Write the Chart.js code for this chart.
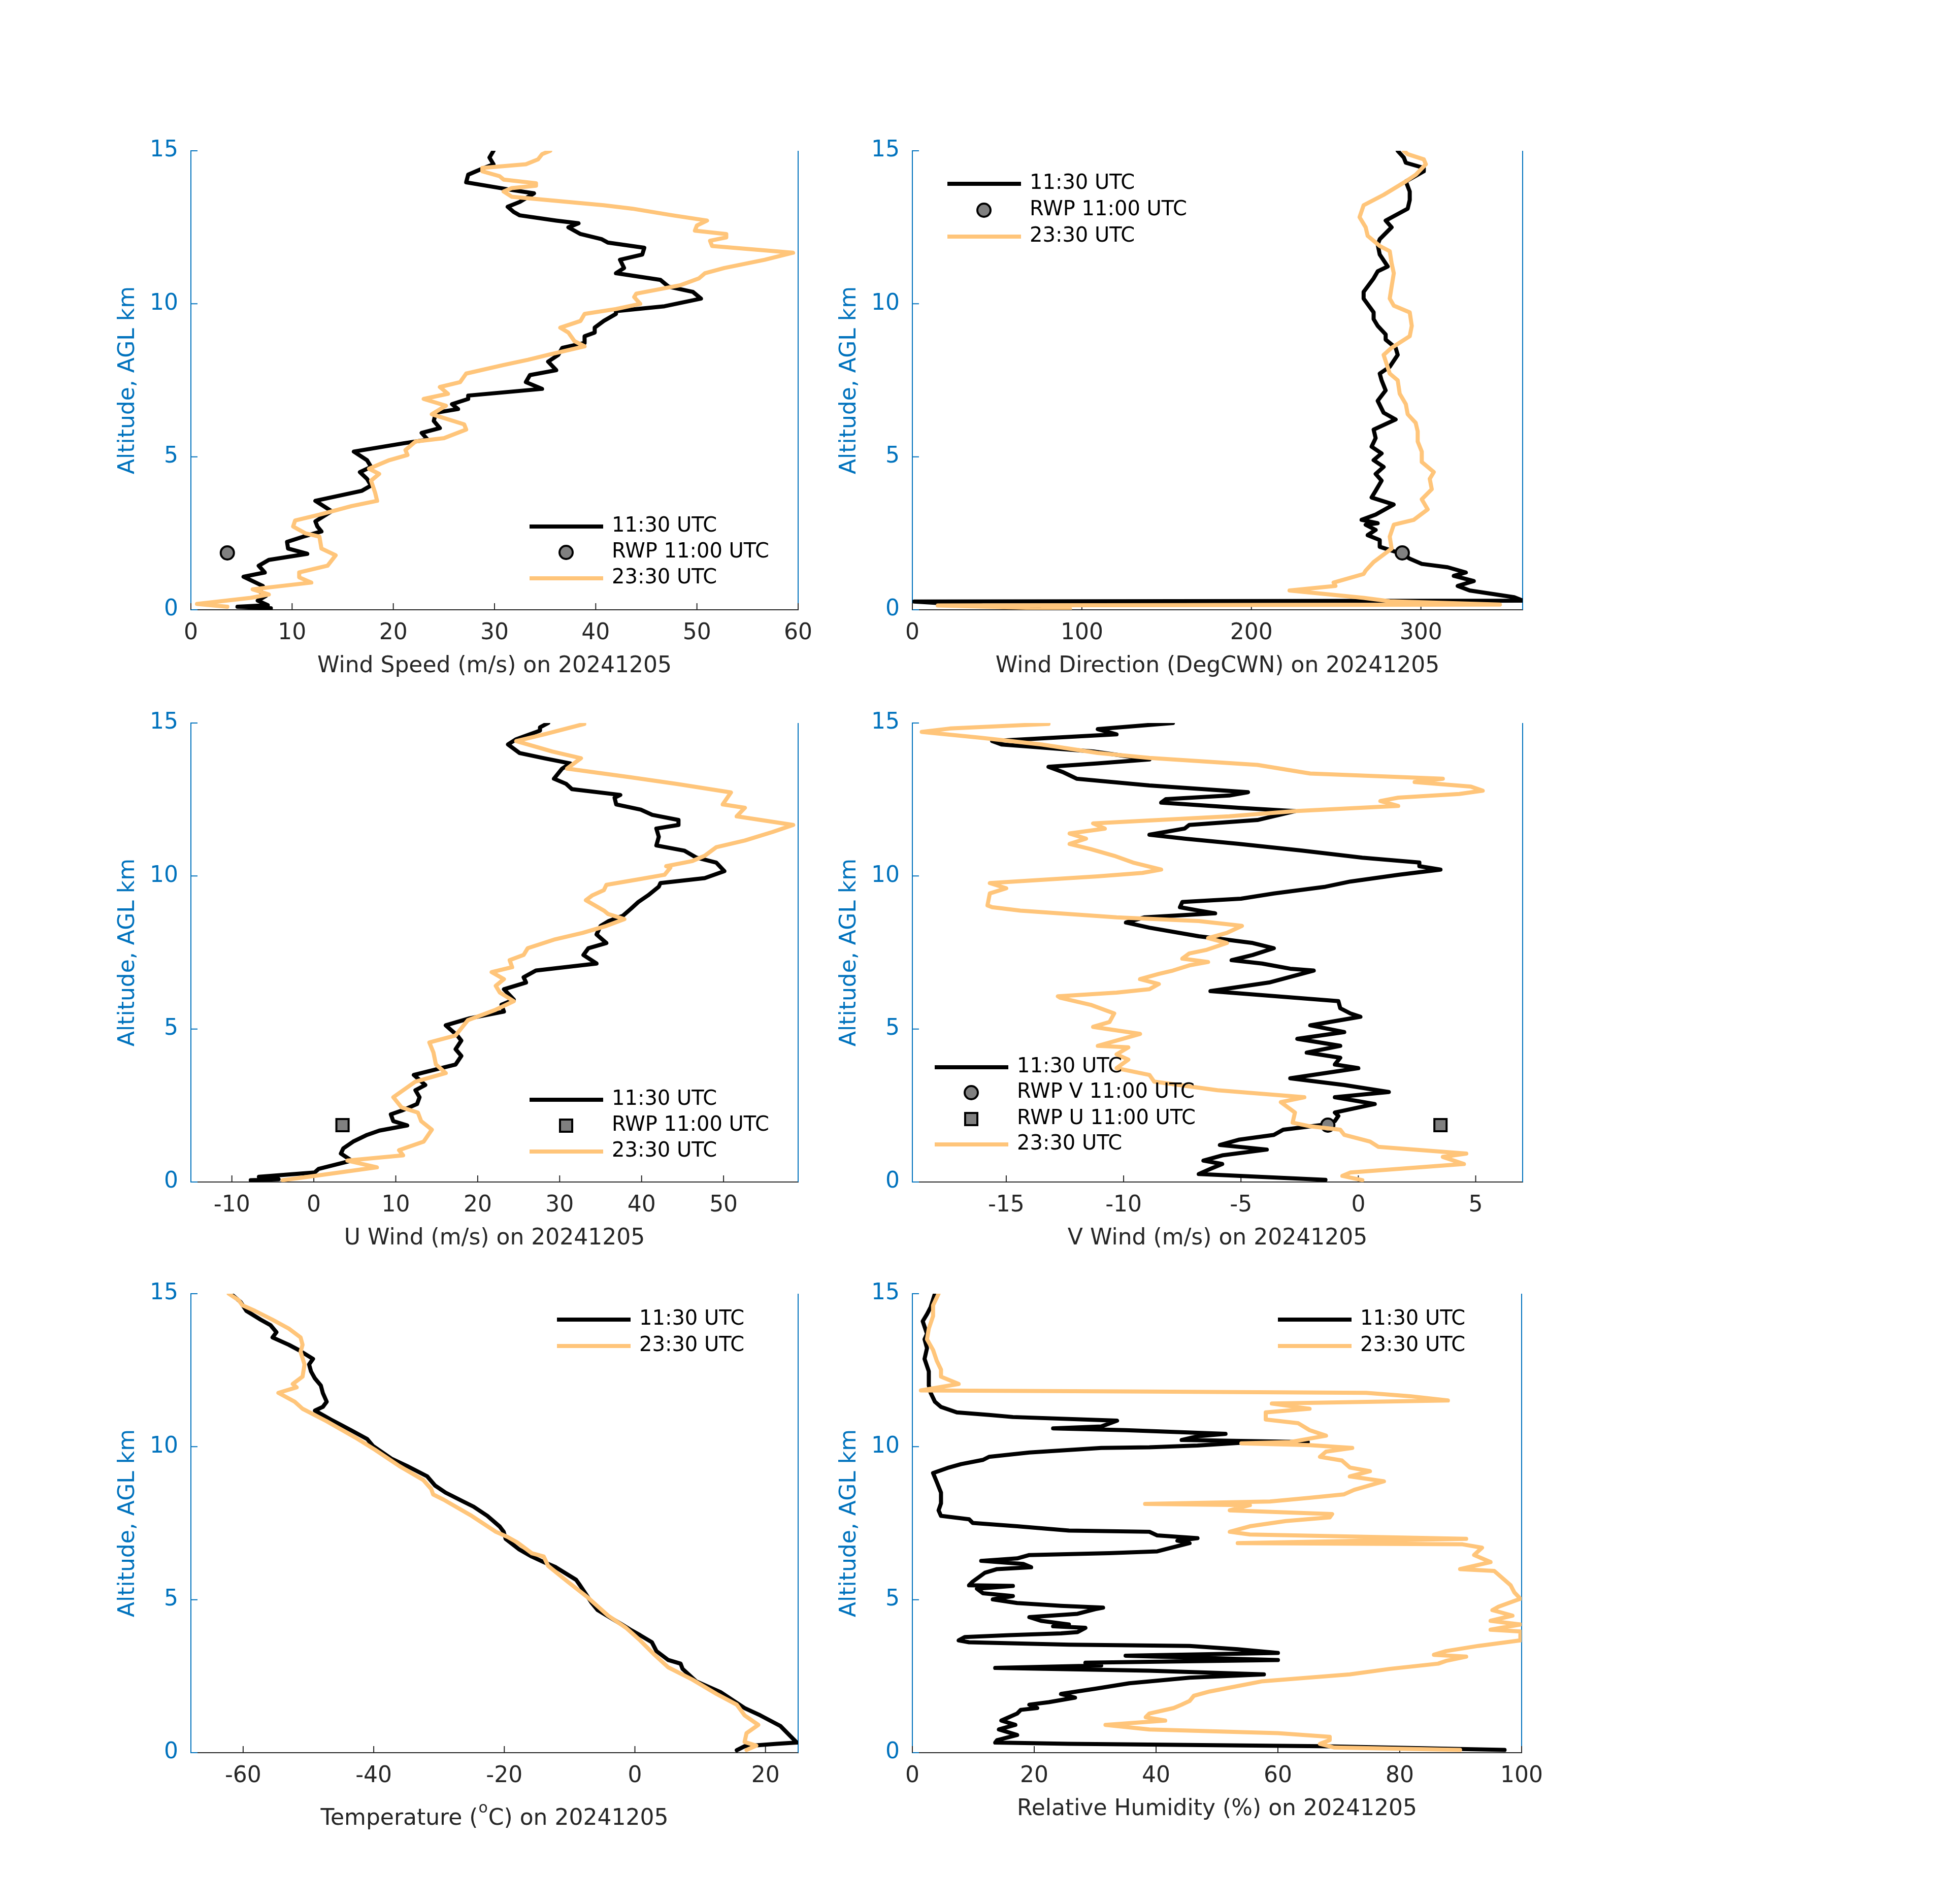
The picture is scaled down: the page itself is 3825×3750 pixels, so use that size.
<!DOCTYPE html>
<html>
<head>
<meta charset="utf-8">
<title>Sounding profiles 20241205</title>
<script src="https://cdn.jsdelivr.net/npm/chart.js@4.4.1/dist/chart.umd.min.js"></script>
<style>
html, body { margin: 0; padding: 0; background: #fff; }
#page { position: relative; width: 3825px; height: 3750px; background: #fff; overflow: hidden; }
#page canvas { position: absolute; }
</style>
</head>
<body>
<div id="page">
  <canvas id="speed"></canvas>
  <canvas id="direction"></canvas>
  <canvas id="uwind"></canvas>
  <canvas id="vwind"></canvas>
  <canvas id="temp"></canvas>
  <canvas id="rh"></canvas>
</div>
<script>
// ---- tick values ----
const altTicks = [0, 5, 10, 15];
const speedTicks = [0, 10, 20, 30, 40, 50, 60];
const dirTicks = [0, 100, 200, 300];
const uTicks = [-10, 0, 10, 20, 30, 40, 50];
const vTicks = [-15, -10, -5, 0, 5];
const tempTicks = [-60, -40, -20, 0, 20];
const rhTicks = [0, 20, 40, 60, 80, 100];

// ---- radar wind profiler, 11:00 UTC ----
const rwpAlt = 1.86;
const rwpSpeed = 3.6;
const rwpDir = 289;
const rwpU = 3.5;
const rwpV = -1.3;

// ---- sonde profiles, [altitude km, value] ----
const speed1130 = [[0.05,7.9],[0.1,4.6],[0.15,7.6],[0.3,6.6],[0.45,7.4],[0.6,6.8],[0.78,7.1],[1.08,5.2],[1.22,7.3],[1.44,6.7],[1.63,7.7],[1.83,11.5],[2.0,9.6],[2.22,9.5],[2.39,11.1],[2.56,12.9],[2.72,12.5],[2.89,12.3],[3.22,13.9],[3.56,12.3],[3.89,16.9],[4.06,17.8],[4.28,17.4],[4.5,16.7],[4.67,17.8],[4.89,17.4],[5.17,16.1],[5.44,21.0],[5.56,23.4],[5.78,22.8],[5.94,24.6],[6.17,24.0],[6.44,24.2],[6.56,26.4],[6.72,25.8],[6.89,27.4],[7.0,27.4],[7.22,34.7],[7.44,33.1],[7.67,33.5],[7.83,36.1],[8.11,35.3],[8.33,36.3],[8.56,36.7],[8.72,38.9],[8.94,38.9],[9.06,39.9],[9.22,39.9],[9.44,40.8],[9.67,42.0],[9.76,42.0],[9.92,46.8],[10.17,50.4],[10.39,49.6],[10.56,47.2],[10.78,46.4],[11.0,42.0],[11.17,42.8],[11.44,42.4],[11.61,44.6],[11.83,44.8],[12.0,41.2],[12.11,40.6],[12.28,38.5],[12.5,37.3],[12.63,38.3],[12.72,36.1],[12.89,32.5],[13.0,31.9],[13.17,31.3],[13.33,32.5],[13.61,33.9],[13.72,31.7],[13.97,27.2],[14.22,27.4],[14.39,28.6],[14.56,29.9],[14.78,29.5],[15.0,29.9]];
const speed2330 = [[0.1,3.6],[0.19,0.6],[0.39,5.9],[0.5,7.7],[0.67,6.1],[0.89,11.9],[1.06,10.7],[1.22,10.7],[1.44,13.5],[1.78,14.3],[2.0,12.9],[2.39,12.7],[2.5,11.3],[2.72,10.1],[2.92,10.3],[3.11,12.7],[3.39,15.9],[3.56,18.4],[3.83,18.2],[4.22,17.8],[4.44,18.6],[4.61,17.6],[4.89,19.6],[5.06,21.4],[5.22,21.2],[5.5,22.2],[5.61,25.0],[5.89,27.2],[6.06,27.0],[6.39,23.8],[6.67,25.2],[6.89,23.0],[7.06,25.4],[7.28,24.6],[7.44,26.6],[7.72,27.2],[8.0,30.9],[8.17,33.3],[8.33,35.3],[8.61,38.9],[8.78,37.9],[9.06,37.3],[9.22,36.5],[9.44,38.5],[9.67,38.9],[9.83,42.0],[10.0,44.4],[10.22,43.8],[10.33,44.0],[10.61,48.4],[10.83,50.2],[11.0,50.8],[11.17,52.7],[11.44,56.7],[11.67,59.5],[11.89,51.5],[12.06,51.3],[12.17,52.9],[12.28,52.9],[12.39,49.8],[12.56,50.0],[12.72,51.0],[12.89,47.6],[13.11,43.6],[13.22,40.8],[13.5,31.7],[13.67,30.9],[13.78,31.7],[13.86,34.1],[13.94,34.1],[14.06,30.9],[14.17,30.5],[14.33,28.8],[14.44,28.8],[14.56,33.1],[14.72,34.3],[14.89,34.7],[15.0,35.5]];

const dir1130 = [[0.02,75],[0.27,1],[0.3,360],[0.41,355],[0.63,328.8],[0.78,321.7],[0.94,331.2],[1.11,319.4],[1.22,326.5],[1.39,315.8],[1.5,300.5],[1.67,293.4],[1.83,288.7],[2.06,275.7],[2.28,275.7],[2.44,268.6],[2.61,273.3],[2.78,267.4],[2.83,274.5],[2.94,265.0],[3.11,273.3],[3.44,283.9],[3.67,270.9],[3.89,273.3],[4.22,276.8],[4.44,273.3],[4.67,278.0],[4.89,272.1],[5.11,276.8],[5.33,270.9],[5.61,273.3],[5.89,272.1],[6.22,285.1],[6.44,278.0],[6.83,274.5],[7.17,279.2],[7.5,276.8],[7.72,275.7],[7.94,281.6],[8.33,286.3],[8.56,285.1],[8.83,279.2],[9.0,279.2],[9.28,274.5],[9.5,272.1],[9.72,272.1],[10.17,266.2],[10.39,266.2],[10.83,272.1],[11.06,274.5],[11.22,280.4],[11.61,275.7],[11.94,274.5],[12.11,275.7],[12.5,282.7],[12.72,279.2],[13.11,292.2],[13.39,293.4],[13.67,293.4],[14.0,291.1],[14.33,301.7],[14.44,301.7],[14.61,291.1],[14.78,289.9],[15.0,286.3]];
const dir2330 = [[0.03,93],[0.14,15],[0.17,346.6],[0.28,281.6],[0.39,266.2],[0.63,222.5],[0.78,249.6],[0.89,248.5],[1.17,266.2],[1.28,267.4],[1.56,272.1],[2.0,282.7],[2.39,281.6],[2.78,284.0],[2.94,295.8],[3.28,304.0],[3.61,300.5],[3.94,306.4],[4.28,305.2],[4.5,307.6],[4.83,300.5],[5.17,300.5],[5.5,298.1],[5.83,298.1],[6.11,296.9],[6.39,292.2],[6.72,291.1],[7.06,287.5],[7.5,286.3],[7.72,281.6],[8.33,278.0],[8.56,282.7],[8.94,293.4],[9.28,294.6],[9.72,293.4],[9.94,284.0],[10.17,281.6],[10.56,282.7],[11.0,284.0],[11.33,282.7],[11.72,281.6],[11.89,275.7],[12.22,268.6],[12.5,267.4],[12.83,263.8],[13.22,266.2],[13.56,278.0],[14.0,291.1],[14.22,297.0],[14.56,302.9],[14.72,301.7],[14.89,292.2],[15.0,289.9]];

const u1130 = [[0.06,-7.7],[0.09,-4.3],[0.17,-6.7],[0.31,0.1],[0.43,0.6],[0.7,4.6],[0.93,3.3],[1.1,3.6],[1.32,4.8],[1.54,6.5],[1.68,8.0],[1.85,11.4],[1.99,9.7],[2.21,9.4],[2.33,10.7],[2.55,12.6],[2.77,12.9],[3.0,12.4],[3.17,13.6],[3.5,12.2],[3.84,17.3],[4.12,18.0],[4.34,17.3],[4.62,18.0],[4.79,17.5],[5.12,16.1],[5.35,19.0],[5.57,23.2],[5.79,22.9],[5.96,24.4],[6.3,23.2],[6.52,25.9],[6.69,25.6],[6.91,27.1],[7.14,34.5],[7.42,32.9],[7.64,33.5],[7.81,35.7],[8.09,34.5],[8.37,35.0],[8.53,36.0],[8.7,37.7],[8.93,38.7],[9.15,39.6],[9.37,40.8],[9.65,42.1],[9.77,42.3],[9.93,47.7],[10.16,50.1],[10.44,49.1],[10.6,46.7],[10.83,45.2],[11.0,41.8],[11.28,42.1],[11.55,41.8],[11.67,44.5],[11.83,44.5],[12.0,41.3],[12.17,39.9],[12.34,36.9],[12.56,36.7],[12.65,37.4],[12.84,31.5],[13.01,30.8],[13.18,29.3],[13.51,30.3],[13.68,31.3],[13.85,28.1],[14.02,25.1],[14.3,23.7],[14.47,24.7],[14.75,27.6],[14.86,27.6],[15.0,28.6]];
const u2330 = [[0.06,-3.8],[0.2,0.1],[0.48,7.7],[0.7,4.1],[0.87,10.9],[1.04,10.4],[1.32,13.4],[1.71,14.4],[1.99,13.1],[2.27,12.7],[2.44,10.7],[2.77,9.7],[3.28,12.4],[3.56,16.1],[3.84,14.9],[4.23,14.6],[4.56,14.1],[4.79,17.3],[5.29,18.8],[5.63,22.2],[5.91,24.4],[6.19,22.7],[6.41,22.2],[6.63,23.2],[6.86,21.7],[7.02,24.2],[7.25,23.9],[7.42,25.6],[7.64,26.1],[7.92,29.3],[8.14,32.8],[8.37,35.7],[8.59,37.9],[8.76,35.9],[8.87,35.4],[9.21,33.2],[9.37,34.0],[9.54,35.4],[9.71,35.7],[9.88,39.4],[10.04,42.8],[10.27,43.5],[10.32,43.0],[10.49,46.2],[10.66,47.7],[10.94,49.1],[11.16,52.6],[11.44,56.0],[11.67,58.5],[11.95,51.6],[12.23,52.6],[12.34,49.9],[12.73,50.9],[13.01,44.3],[13.23,38.6],[13.51,30.9],[13.85,32.6],[14.07,29.1],[14.41,24.7],[14.63,28.1],[14.97,33.0]];

const v1130 = [[0.07,-1.4],[0.26,-6.8],[0.43,-6.3],[0.59,-5.8],[0.7,-6.6],[0.87,-5.8],[1.06,-3.9],[1.21,-5.9],[1.38,-5.1],[1.54,-3.6],[1.71,-3.2],[1.88,-1.4],[1.99,-1.0],[2.16,-0.85],[2.27,-1.0],[2.55,0.7],[2.77,-1.0],[2.94,1.3],[3.17,-0.6],[3.39,-2.9],[3.72,0.0],[3.84,-1.0],[4.06,-0.77],[4.23,-2.2],[4.45,-0.77],[4.68,-2.6],[4.9,-0.6],[5.12,-2.05],[5.4,0.09],[5.51,-0.34],[5.68,-0.77],[5.91,-0.85],[6.24,-6.3],[6.52,-3.8],[6.91,-1.9],[6.97,-2.9],[7.14,-4.1],[7.25,-5.4],[7.42,-4.5],[7.64,-3.6],[7.81,-4.5],[7.92,-5.6],[8.03,-6.8],[8.31,-8.9],[8.48,-9.9],[8.65,-9.1],[8.78,-6.1],[8.87,-6.8],[8.98,-7.6],[9.15,-7.5],[9.26,-5.0],[9.43,-3.6],[9.65,-1.4],[9.82,-0.34],[10.04,1.7],[10.21,3.5],[10.32,2.6],[10.44,2.6],[10.6,0.17],[10.83,-2.4],[11.05,-5.1],[11.22,-7.4],[11.35,-8.9],[11.55,-7.4],[11.67,-7.2],[11.83,-4.3],[12.12,-2.7],[12.23,-5.1],[12.4,-8.4],[12.51,-8.2],[12.63,-5.5],[12.74,-4.7],[12.96,-8.9],[13.18,-12.0],[13.4,-12.6],[13.57,-13.2],[13.68,-11.1],[13.81,-8.9],[14.07,-11.3],[14.3,-15.2],[14.41,-15.6],[14.63,-10.3],[14.8,-11.1],[15.0,-7.9]];
const v2330 = [[0.06,0.17],[0.2,-0.68],[0.31,-0.34],[0.59,4.5],[0.82,3.6],[0.93,4.6],[1.15,0.85],[1.32,0.5],[1.54,-0.6],[1.71,-0.77],[1.82,-2.05],[1.94,-2.8],[2.27,-2.7],[2.61,-3.3],[2.77,-2.3],[3.0,-6.0],[3.28,-8.7],[3.5,-8.9],[3.72,-10.3],[4.0,-9.8],[4.17,-10.3],[4.4,-9.8],[4.45,-11.1],[4.84,-9.3],[5.07,-11.3],[5.23,-10.6],[5.51,-10.4],[5.79,-11.4],[6.02,-12.7],[6.07,-12.8],[6.19,-10.3],[6.3,-8.9],[6.47,-8.5],[6.63,-9.3],[6.8,-8.5],[6.91,-7.9],[7.08,-7.2],[7.19,-6.4],[7.3,-7.5],[7.47,-7.2],[7.58,-6.5],[7.81,-5.6],[7.97,-6.4],[8.14,-5.6],[8.37,-4.96],[8.53,-6.8],[8.65,-10.3],[8.87,-14.4],[8.98,-15.6],[9.04,-15.8],[9.43,-15.7],[9.6,-15.0],[9.77,-15.7],[9.99,-11.1],[10.1,-9.2],[10.21,-8.4],[10.44,-9.6],[10.66,-10.4],[10.88,-11.4],[11.05,-12.3],[11.22,-11.6],[11.39,-12.3],[11.55,-10.8],[11.72,-11.3],[11.95,-5.5],[12.12,-2.7],[12.29,1.7],[12.45,0.94],[12.56,1.7],[12.68,4.3],[12.79,5.3],[12.92,4.8],[13.07,2.4],[13.18,3.6],[13.35,-2.05],[13.63,-4.3],[13.86,-8.9],[14.02,-11.1],[14.3,-13.5],[14.52,-16.1],[14.71,-18.6],[14.82,-17.4],[14.97,-13.2]];

const temp1130 = [[0.08,15.6],[0.21,16.8],[0.29,21.7],[0.33,24.8],[0.87,22.3],[1.22,19.2],[1.46,16.8],[1.98,13.1],[2.33,9.4],[2.74,7.3],[2.91,7.0],[3.03,5.1],[3.32,3.3],[3.61,2.6],[3.84,0.8],[4.02,-0.7],[4.19,-2.0],[4.66,-5.7],[4.89,-6.6],[5.47,-8.4],[5.65,-9.0],[6.06,-12.1],[6.23,-13.96],[6.41,-15.8],[6.64,-17.7],[6.99,-19.8],[7.22,-20.1],[7.39,-20.7],[7.74,-22.6],[8.04,-24.7],[8.21,-26.3],[8.5,-29.0],[8.73,-30.6],[9.03,-31.8],[9.37,-34.9],[9.61,-37.3],[10.02,-40.1],[10.25,-41.0],[10.54,-43.5],[10.71,-45.0],[10.89,-46.6],[11.18,-49.0],[11.3,-47.8],[11.47,-47.2],[11.76,-47.8],[12.0,-48.1],[12.23,-49.0],[12.46,-49.6],[12.69,-49.9],[12.87,-49.3],[13.16,-51.5],[13.33,-53.0],[13.57,-55.5],[13.74,-54.9],[13.97,-55.8],[14.15,-57.3],[14.44,-59.5],[14.73,-60.4],[15.0,-61.9]];
const temp2330 = [[0.09,17.1],[0.23,18.6],[0.35,16.8],[0.64,17.1],[0.91,18.9],[1.22,16.8],[1.57,15.6],[1.92,12.5],[2.39,8.8],[2.79,5.1],[3.2,3.0],[3.67,0.8],[4.08,-1.35],[4.48,-4.1],[5.07,-7.2],[5.59,-10.3],[6.11,-13.3],[6.41,-13.96],[6.52,-15.8],[6.87,-18.0],[7.05,-19.5],[7.22,-21.3],[7.74,-25.0],[8.27,-29.3],[8.44,-30.9],[8.62,-31.2],[8.91,-32.4],[9.37,-36.1],[9.9,-39.8],[10.31,-42.9],[10.83,-47.2],[11.24,-50.9],[11.47,-52.1],[11.76,-54.6],[11.94,-51.8],[12.05,-52.4],[12.29,-50.9],[12.69,-50.6],[13.1,-51.2],[13.33,-50.9],[13.57,-51.2],[13.86,-53.0],[14.15,-55.5],[14.44,-58.2],[14.62,-60.1],[14.79,-60.7],[15.0,-62.2]];

const rh1130 = [[0.09,97.2],[0.21,67.2],[0.29,25.7],[0.33,13.6],[0.41,13.9],[0.58,17.2],[0.76,14.2],[0.91,16.9],[1.05,14.6],[1.28,17.2],[1.4,17.8],[1.46,20.5],[1.57,19.2],[1.65,22.4],[1.8,26.7],[1.92,24.4],[2.1,30.3],[2.27,35.6],[2.45,45.5],[2.56,57.7],[2.68,38.9],[2.77,13.6],[2.85,31.0],[2.94,28.4],[3.03,60.0],[3.17,35.0],[3.26,60.0],[3.38,53.4],[3.49,45.5],[3.53,25.7],[3.61,9.3],[3.67,7.6],[3.78,8.6],[3.84,15.9],[3.9,24.4],[3.94,27.1],[4.08,28.4],[4.13,23.1],[4.19,25.7],[4.31,21.1],[4.43,19.2],[4.54,27.1],[4.69,30.0],[4.74,31.3],[4.8,24.4],[4.89,17.2],[5.01,13.2],[5.12,16.5],[5.21,11.6],[5.36,10.6],[5.45,16.5],[5.47,9.3],[5.59,9.9],[5.88,11.9],[6.0,13.9],[6.06,19.5],[6.17,18.2],[6.27,11.3],[6.35,17.2],[6.46,19.2],[6.52,32.3],[6.58,40.2],[6.85,45.5],[6.93,43.5],[7.01,46.8],[7.1,40.2],[7.22,38.9],[7.26,25.7],[7.4,17.2],[7.51,9.9],[7.63,9.3],[7.74,4.7],[7.92,4.3],[8.15,4.7],[8.5,4.7],[8.85,4.0],[9.14,3.4],[9.32,6.0],[9.43,8.0],[9.57,11.6],[9.67,12.6],[9.81,19.2],[9.96,31.0],[9.98,38.9],[10.04,46.8],[10.13,54.0],[10.15,64.9],[10.22,44.2],[10.34,46.8],[10.42,51.4],[10.54,35.0],[10.6,23.1],[10.66,31.0],[10.85,33.6],[10.97,16.5],[11.04,12.6],[11.12,7.3],[11.3,4.7],[11.47,3.7],[11.76,3.0],[12.0,2.7],[12.46,2.7],[12.87,2.0],[13.22,2.4],[13.51,2.0],[13.69,2.4],[14.1,1.7],[14.33,2.4],[14.56,3.0],[15.0,3.7]];
const rh2330 = [[0.09,89.9],[0.17,69.2],[0.29,66.9],[0.41,68.5],[0.52,68.5],[0.64,60.0],[0.76,38.9],[0.91,31.7],[1.05,41.5],[1.16,38.3],[1.28,38.9],[1.46,42.9],[1.57,44.2],[1.69,45.5],[1.86,46.2],[2.0,48.8],[2.33,57.3],[2.56,71.8],[2.74,78.4],[2.91,86.3],[3.0,87.6],[3.14,90.9],[3.2,85.6],[3.32,87.6],[3.49,92.9],[3.67,99.8],[3.96,99.8],[4.02,94.9],[4.19,99.8],[4.31,94.9],[4.48,98.5],[4.66,95.2],[4.77,96.2],[5.03,99.8],[5.24,98.8],[5.47,98.2],[5.82,96.2],[5.94,95.5],[6.0,89.9],[6.23,94.9],[6.46,92.2],[6.7,93.5],[6.81,90.3],[6.85,53.4],[6.99,90.9],[7.13,55.4],[7.22,52.1],[7.4,55.4],[7.57,61.3],[7.69,68.5],[7.8,68.9],[7.92,52.1],[8.09,55.4],[8.13,38.2],[8.21,58.7],[8.33,65.2],[8.44,70.8],[8.59,72.5],[8.87,77.4],[9.03,71.8],[9.2,75.1],[9.32,71.8],[9.55,70.5],[9.67,66.9],[9.84,67.9],[9.96,72.2],[10.05,65.2],[10.11,54.0],[10.15,62.0],[10.36,67.9],[10.54,65.2],[10.77,63.3],[10.89,58.0],[11.12,58.0],[11.24,65.2],[11.41,59.0],[11.51,87.9],[11.65,81.7],[11.76,74.5],[11.8,38.9],[11.84,1.4],[12.05,7.6],[12.29,4.7],[12.52,4.7],[12.81,4.0],[13.16,3.4],[13.51,2.4],[13.86,2.7],[14.27,3.4],[14.62,3.4],[15.0,4.3]];

// ---- layout (px) ----
const COLS = [376, 1797];
const COL_W = [1196, 1202];
const ROWS = [297, 1424, 2548];
const PLOT_H = 904;
// top pad has to clear the y tick label half height + tick padding, or chart.js pushes the plot down
const LEFT_PAD = 260, TOP_PAD = 60, RIGHT_PAD = 60, BOTTOM_PAD = 200;

const BLUE = '#0072BD';
const AXIS_GRAY = '#262626';
const ORANGE = '#FFC57A';
const FONT = 'DejaVu Sans';

function toPoints(profile) {
  return profile.map(([alt, v]) => ({x: v, y: alt}));
}

function sonde(label, profile, color, order) {
  return {
    label: label,
    data: toPoints(profile),
    borderColor: color,
    backgroundColor: color,
    borderWidth: 8,
    borderJoinStyle: 'round',
    borderCapStyle: 'round',
    pointRadius: 0,
    order: order
  };
}

function rwp(label, x, style) {
  return {
    label: label,
    data: [{x: x, y: rwpAlt}],
    showLine: false,
    pointStyle: style,
    pointRadius: style === 'rect' ? 17 : 13,
    pointBackgroundColor: '#808080',
    pointBorderColor: '#000',
    pointBorderWidth: 4,
    order: 1
  };
}

// inner tick marks and right-hand frame line
const frame = {
  id: 'frame',
  beforeDatasetsDraw(chart) {
    const {ctx, chartArea: a, scales} = chart;
    ctx.save();
    ctx.lineWidth = 2;
    ctx.strokeStyle = BLUE;
    ctx.beginPath();
    ctx.moveTo(a.right, a.top);
    ctx.lineTo(a.right, a.bottom);
    scales.y.ticks.forEach(t => {
      const p = scales.y.getPixelForValue(t.value);
      ctx.moveTo(a.left, p);
      ctx.lineTo(a.left + 13, p);
    });
    ctx.stroke();
    ctx.strokeStyle = AXIS_GRAY;
    ctx.beginPath();
    scales.x.ticks.forEach(t => {
      const p = scales.x.getPixelForValue(t.value);
      ctx.moveTo(p, a.bottom);
      ctx.lineTo(p, a.bottom - 13);
    });
    ctx.stroke();
    ctx.restore();
  }
};

// matlab-like legend, drawn inside the plot area
const boxLegend = {
  id: 'boxLegend',
  afterDatasetsDraw(chart, args, opts) {
    const {ctx, chartArea: a} = chart;
    const x0 = a.left + opts.x;
    ctx.save();
    ctx.font = '40px "' + FONT + '"';
    ctx.textBaseline = 'middle';
    chart.data.datasets.forEach((ds, i) => {
      const y = a.top + opts.rows[i] + 3;
      if (ds.showLine === false) {
        ctx.fillStyle = ds.pointBackgroundColor;
        ctx.strokeStyle = ds.pointBorderColor;
        ctx.lineWidth = ds.pointBorderWidth;
        Chart.helpers.drawPoint(ctx, {pointStyle: ds.pointStyle, radius: ds.pointRadius, borderWidth: ds.pointBorderWidth, rotation: 0}, x0 + 72, y);
      } else {
        ctx.strokeStyle = ds.borderColor;
        ctx.lineWidth = 8;
        ctx.lineCap = 'butt';
        ctx.beginPath();
        ctx.moveTo(x0, y);
        ctx.lineTo(x0 + 145, y);
        ctx.stroke();
      }
      ctx.fillStyle = '#000';
      ctx.fillText(ds.label, x0 + 162, y);
    });
    ctx.restore();
  }
};

// x label with a raised small "o" (degree sign the matlab way)
const supTitle = {
  id: 'supTitle',
  afterDraw(chart, args, opts) {
    if (!opts.parts) return;
    const {ctx, chartArea: a} = chart;
    const big = '44px "' + FONT + '"', small = '30px "' + FONT + '"';
    ctx.save();
    ctx.fillStyle = AXIS_GRAY;
    ctx.textBaseline = 'alphabetic';
    ctx.font = big;
    const w0 = ctx.measureText(opts.parts[0]).width;
    const w2 = ctx.measureText(opts.parts[2]).width;
    ctx.font = small;
    const w1 = ctx.measureText(opts.parts[1]).width + 2;
    const x = (a.left + a.right) / 2 - (w0 + w1 + w2) / 2;
    const base = a.bottom + opts.drop;
    ctx.font = big;
    ctx.fillText(opts.parts[0], x, base);
    ctx.font = small;
    ctx.fillText(opts.parts[1], x + w0 + 1, base - 24);
    ctx.font = big;
    ctx.fillText(opts.parts[2], x + w0 + w1, base);
    ctx.restore();
  }
};

function panel(id, col, row, cfg) {
  const canvas = document.getElementById(id);
  canvas.width = LEFT_PAD + COL_W[col] + RIGHT_PAD;
  canvas.height = TOP_PAD + PLOT_H + BOTTOM_PAD;
  canvas.style.left = (COLS[col] - LEFT_PAD) + 'px';
  canvas.style.top = (ROWS[row] - TOP_PAD) + 'px';
  return new Chart(canvas, {
    type: 'line',
    data: {datasets: cfg.datasets},
    options: {
      responsive: false,
      animation: false,
      devicePixelRatio: 1,
      layout: {padding: {left: 0, top: TOP_PAD, right: RIGHT_PAD, bottom: 0}},
      plugins: {
        legend: {display: false},
        tooltip: {enabled: false},
        boxLegend: cfg.legend,
        supTitle: cfg.supTitle || {}
      },
      scales: {
        x: {
          type: 'linear',
          min: cfg.xMin,
          max: cfg.xMax,
          afterFit: s => { s.height = BOTTOM_PAD; },
          afterBuildTicks: s => { s.ticks = cfg.xTicks.map(v => ({value: v})); },
          grid: {display: false, drawTicks: false},
          border: {display: true, color: AXIS_GRAY, width: 2},
          ticks: {color: AXIS_GRAY, font: {family: FONT, size: 44}, padding: 20, maxRotation: 0, autoSkip: false},
          title: {display: !cfg.supTitle, text: cfg.xTitle, color: AXIS_GRAY, font: {family: FONT, size: 44},
                  padding: {top: 0, bottom: 61.6}}
        },
        y: {
          type: 'linear',
          min: 0,
          max: 15,
          afterFit: s => { s.width = LEFT_PAD; },
          afterBuildTicks: s => { s.ticks = altTicks.map(v => ({value: v})); },
          grid: {display: false, drawTicks: false},
          border: {display: true, color: BLUE, width: 2},
          ticks: {color: BLUE, font: {family: FONT, size: 44}, padding: 25},
          title: {display: true, text: 'Altitude, AGL km', color: BLUE, font: {family: FONT, size: 44},
                  padding: {top: 110.6, bottom: 0}}
        }
      }
    },
    plugins: [frame, boxLegend, supTitle]
  });
}

panel('speed', 0, 0, {
  xMin: 0, xMax: 60, xTicks: speedTicks,
  xTitle: 'Wind Speed (m/s) on 20241205',
  datasets: [
    sonde('11:30 UTC', speed1130, '#000', 2),
    rwp('RWP 11:00 UTC', rwpSpeed, 'circle'),
    sonde('23:30 UTC', speed2330, ORANGE, 0)
  ],
  legend: {x: 667, rows: [737, 788, 839]}
});

panel('direction', 1, 0, {
  xMin: 0, xMax: 360, xTicks: dirTicks,
  xTitle: 'Wind Direction (DegCWN) on 20241205',
  datasets: [
    sonde('11:30 UTC', dir1130, '#000', 2),
    rwp('RWP 11:00 UTC', rwpDir, 'circle'),
    sonde('23:30 UTC', dir2330, ORANGE, 0)
  ],
  legend: {x: 69, rows: [62, 114, 166]}
});

panel('uwind', 0, 1, {
  xMin: -15, xMax: 59.1, xTicks: uTicks,
  xTitle: 'U Wind (m/s) on 20241205',
  datasets: [
    sonde('11:30 UTC', u1130, '#000', 2),
    rwp('RWP 11:00 UTC', rwpU, 'rect'),
    sonde('23:30 UTC', u2330, ORANGE, 0)
  ],
  legend: {x: 667, rows: [739, 790, 841]}
});

panel('vwind', 1, 1, {
  xMin: -19, xMax: 7, xTicks: vTicks,
  xTitle: 'V Wind (m/s) on 20241205',
  datasets: [
    sonde('11:30 UTC', v1130, '#000', 2),
    rwp('RWP V 11:00 UTC', rwpV, 'circle'),
    rwp('RWP U 11:00 UTC', rwpU, 'rect'),
    sonde('23:30 UTC', v2330, ORANGE, 0)
  ],
  legend: {x: 44, rows: [675, 725, 777, 827]}
});

panel('temp', 0, 2, {
  xMin: -68, xMax: 25, xTicks: tempTicks,
  xTitle: 'Temperature (oC) on 20241205',
  supTitle: {parts: ['Temperature (', 'o', 'C) on 20241205'], drop: 142},
  datasets: [
    sonde('11:30 UTC', temp1130, '#000', 2),
    sonde('23:30 UTC', temp2330, ORANGE, 0)
  ],
  legend: {x: 721, rows: [48, 100]}
});

panel('rh', 1, 2, {
  xMin: 0, xMax: 100, xTicks: rhTicks,
  xTitle: 'Relative Humidity (%) on 20241205',
  datasets: [
    sonde('11:30 UTC', rh1130, '#000', 2),
    sonde('23:30 UTC', rh2330, ORANGE, 0)
  ],
  legend: {x: 720, rows: [48, 100]}
});
</script>
</body>
</html>
